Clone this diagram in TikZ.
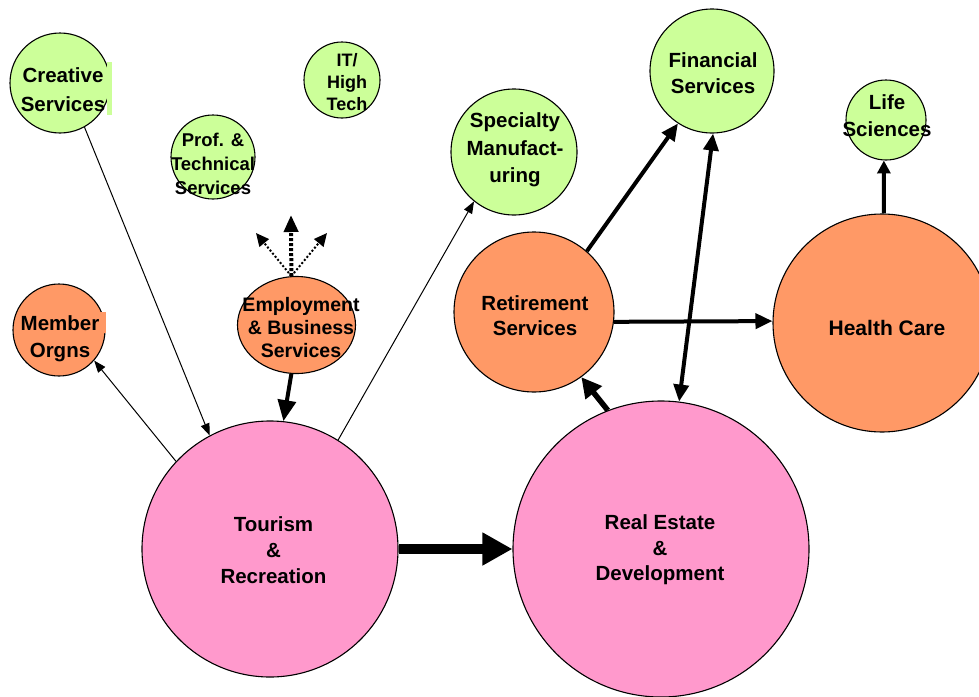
\documentclass[tikz,border=0pt]{standalone}
\usepackage{fontspec}
\setmainfont{Liberation Sans}
\usetikzlibrary{arrows.meta,shapes.geometric}
\definecolor{lgreen}{HTML}{CCFF99}
\definecolor{lorange}{HTML}{FF9966}
\definecolor{lpink}{HTML}{FF99CC}
\begin{document}
\begin{tikzpicture}[x=1pt,y=-1pt,
  bub/.style={circle,draw=black,line width=1.1pt,inner sep=0pt},
  gbub/.style={bub,fill=lgreen},
  obub/.style={bub,fill=lorange},
  pbub/.style={bub,fill=lpink},
  lbl/.style={align=center,inner sep=0pt,font=\bfseries\fontsize{20.5}{26}\selectfont},
  thinarrow/.style={line width=1pt,-{Triangle[length=12pt,width=9pt]}},
  medarrow/.style={line width=4pt,-{Triangle[length=17pt,width=15pt]}},
  medhead/.style={{Triangle[length=17pt,width=15pt]}-{Triangle[length=17pt,width=15pt]}},
  dashv/.style={line width=4pt,dash pattern=on 3pt off 2pt,-{Triangle[length=17pt,width=14pt]}},
  dotd/.style={line width=2pt,dash pattern=on 2pt off 2pt,-{Triangle[length=13pt,width=12pt]}},
]
\useasboundingbox (0,0) rectangle (979,696);
\clip (0,0) rectangle (979,696);
% circles
\node[gbub,minimum size=100pt] (cs) at (60,83) {};
\node[gbub,minimum size=84pt] (pt) at (213,157) {};
\node[gbub,minimum size=76pt] (it) at (342,80) {};
\node[gbub,minimum size=126pt] (sm) at (514,152) {};
\node[gbub,minimum size=124pt] (fs) at (712,71) {};
\node[gbub,minimum size=80pt] (ls) at (886,120) {};
\node[obub,minimum size=92pt] (mo) at (59,330) {};
\node[obub,ellipse,minimum width=118pt,minimum height=97pt] (eb) at (296.5,325) {};
\node[obub,minimum size=160pt] (rs) at (534,312) {};
\node[obub,minimum size=218pt] (hc) at (882,323) {};
\node[pbub,minimum size=256pt] (tr) at (270,549) {};
\node[pbub,minimum size=296pt] (re) at (661,549) {};
% text-box patches
\fill[lgreen] (107,62) rectangle (111.5,115);
\fill[lorange] (100,312) rectangle (105.5,333);
% labels
\node[lbl,font=\bfseries\fontsize{20.5}{29}\selectfont] (cst) at (63,89.5) {Creative\\Services};
\node[lbl,font=\bfseries\fontsize{18.5}{24}\selectfont] (ptt) at (213,163.5) {Prof. \&\\Technical\\Services};
\node[lbl,font=\bfseries\fontsize{18}{22}\selectfont] (itt) at (347,82.5) {IT/\\High\\Tech};
\node[lbl,font=\bfseries\fontsize{20.5}{27.5}\selectfont] (smt) at (515,150) {Specialty\\Manufact-\\uring};
\node[lbl] (fst) at (713,73.5) {Financial\\Services};
\node[lbl,font=\bfseries\fontsize{20.5}{27}\selectfont] (lst) at (887,115.5) {Life\\Sciences};
\node[lbl,font=\bfseries\fontsize{20.5}{27}\selectfont] (mot) at (60,339) {Member\\Orgns};
\node[lbl,font=\bfseries\fontsize{19.5}{23}\selectfont] (ebt) at (301,327.5) {Employment\\\& Business\\Services};
\node[lbl,font=\bfseries\fontsize{20.5}{25}\selectfont] (rst) at (535,316) {Retirement\\Services};
\node[lbl,font=\bfseries\fontsize{21}{25}\selectfont] (hct) at (887,327.5) {Health Care};
\node[lbl] (trt) at (273.5,550.5) {Tourism\\\&\\Recreation};
\node[lbl,font=\bfseries\fontsize{20.5}{25.5}\selectfont] (ret) at (660,550) {Real Estate\\\&\\Development};
% connectors
\draw[thinarrow] (cs.-61) -- (tr.118);
\draw[thinarrow] (tr.137.5) -- (mo.-41);
\draw[thinarrow] (tr.58.7) -- (sm.-129);
\draw[line width=4pt,-{Triangle[length=21pt,width=18pt]}] (eb.-96) -- (tr.84);
\coordinate (up) at (291,215);
\coordinate (ul) at (256,233);
\coordinate (ur) at (327,233);
\draw[dashv] (eb.96) -- (up);
\draw[dotd] (eb.96) -- (ul);
\draw[dotd] (eb.96) -- (ur);
\draw[line width=9.5pt,-{Triangle[length=30pt,width=31pt]}] (tr.0) -- (re.180);
\draw[line width=5.5pt,-{Triangle[length=20pt,width=20pt]}] (re.111.2) -- (rs.-54.7);
\draw[medarrow] (rs.49) -- (fs.-123);
\draw[line width=4pt,medhead] (fs.-89) -- (re.83.4);
\draw[medarrow] (rs.-7.2) -- (hc.179.5);
\draw[line width=4pt,-{Triangle[length=13pt,width=13pt]}] (hc.89) -- (ls.-93);
\end{tikzpicture}
\end{document}
